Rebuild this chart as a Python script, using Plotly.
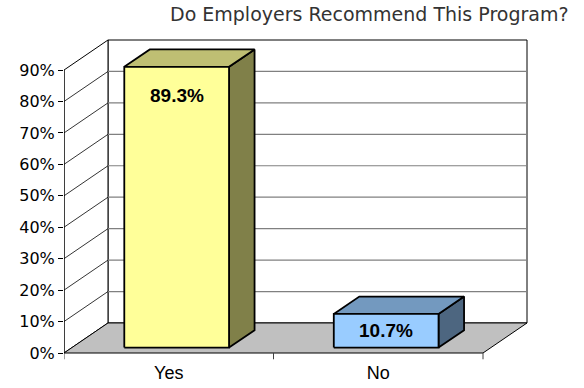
import plotly.graph_objects as go

# Survey result
categories = ["Yes", "No"]
values = [89.3, 10.7]
tick_values = [0, 10, 20, 30, 40, 50, 60, 70, 80, 90]
tick_labels = ["0%", "10%", "20%", "30%", "40%", "50%", "60%", "70%", "80%", "90%"]
title_text = "Do Employers Recommend This Program?"

# Bar colours: front, top, side
yes_colors = ["#FFFF99", "#BFBF73", "#808049"]
no_colors = ["#99CCFF", "#7399BF", "#4D6680"]
bar_palettes = [yes_colors, no_colors]

# Oblique projection: depth d in [0, 1] shifts a point right (x) and up (y)
DX = 0.21
DY = 9.55
Y_MAX = 90
X0, X1 = -0.5, len(categories) - 0.5
BAR_HALF = 0.25
D_FRONT, D_BACK = 0.18, 0.76


def proj(x, y, d):
    return x + d * DX, y + d * DY


def poly(points, fill, line_color="black", width=1.0, fillmode=True):
    xs, ys = zip(*[proj(*p) for p in points])
    xs, ys = list(xs), list(ys)
    if fillmode:
        xs.append(xs[0])
        ys.append(ys[0])
    return go.Scatter(
        x=xs, y=ys, mode="lines",
        fill="toself" if fillmode else None,
        fillcolor=fill, line=dict(color=line_color, width=width),
        hoverinfo="skip", showlegend=False,
    )


def seg(p, q, color, width=1.0):
    return poly([p, q], None, color, width, fillmode=False)


traces = []

# Back wall
traces.append(poly([(X0, 0, 1), (X1, 0, 1), (X1, Y_MAX, 1), (X0, Y_MAX, 1)], "white", "black", 1))
# Side wall
traces.append(poly([(X0, 0, 0), (X0, 0, 1), (X0, Y_MAX, 1), (X0, Y_MAX, 0)], "white", "black", 1))

# Gridlines on the back wall and along the side wall
for v in tick_values[1:-1]:
    traces.append(seg((X0, v, 1), (X1, v, 1), "#808080", 1.2))
    traces.append(seg((X0, v, 0), (X0, v, 1), "black", 0.8))

# Floor
traces.append(poly([(X0, 0, 0), (X1, 0, 0), (X1, 0, 1), (X0, 0, 1)], "#C0C0C0", "black", 1))

# Category boundary ticks below the floor
for i in range(len(categories) + 1):
    xb = X0 + i
    traces.append(seg((xb, 0, 0), (xb, -2, 0), "#404040", 1))

# Front value axis line
traces.append(seg((X0, 0, 0), (X0, Y_MAX, 0), "black", 1))

annotations = []
for i, (cat, v) in enumerate(zip(categories, values)):
    front, top, side = bar_palettes[i]
    xl, xr = i - BAR_HALF, i + BAR_HALF
    # right side face
    traces.append(poly([(xr, 0, D_FRONT), (xr, 0, D_BACK), (xr, v, D_BACK), (xr, v, D_FRONT)], side, "black", 1.8))
    # top face
    traces.append(poly([(xl, v, D_FRONT), (xr, v, D_FRONT), (xr, v, D_BACK), (xl, v, D_BACK)], top, "black", 1.8))
    # front face
    traces.append(poly([(xl, 0, D_FRONT), (xr, 0, D_FRONT), (xr, v, D_FRONT), (xl, v, D_FRONT)], front, "black", 1.8))

    # value label on the front face
    fx, fy_top = proj(i, v, D_FRONT)
    _, fy_bot = proj(i, 0, D_FRONT)
    label_y = max(fy_top - 9, (fy_top + fy_bot) / 2)
    annotations.append(dict(
        x=fx, y=label_y, xref="x", yref="y", text=f"<b>{v:.1f}%</b>",
        showarrow=False, font=dict(family="Liberation Sans", size=19, color="black"),
    ))

PX_PER_CAT = 209.5
PX_PER_PCT = 3.144
MARGIN_L, MARGIN_R, MARGIN_T, MARGIN_B = 64, 24, 30, 28
plot_w = 584 - MARGIN_L - MARGIN_R
plot_h = 388 - MARGIN_T - MARGIN_B

# Chart title, right-aligned above the back wall
annotations.append(dict(
    x=(571 - MARGIN_L) / plot_w, y=1 + (MARGIN_T - 14) / plot_h,
    xref="paper", yref="paper", xanchor="right", yanchor="middle",
    text=title_text, showarrow=False,
    font=dict(family="DejaVu Sans", size=19, color="#333333"),
))

fig = go.Figure(traces)

fig.update_layout(
    width=584, height=388,
    autosize=False,
    margin=dict(l=MARGIN_L, r=MARGIN_R, t=MARGIN_T, b=MARGIN_B, pad=0, autoexpand=False),
    paper_bgcolor="white", plot_bgcolor="white",
    showlegend=False,
    xaxis=dict(
        range=[X0, X0 + plot_w / PX_PER_CAT],
        tickvals=list(range(len(categories))), ticktext=categories,
        showgrid=False, zeroline=False, showline=False,
        ticks="", automargin=False,
        tickfont=dict(family="Liberation Sans", size=18, color="black"),
    ),
    yaxis=dict(
        range=[-7 / PX_PER_PCT, -7 / PX_PER_PCT + plot_h / PX_PER_PCT],
        tickvals=tick_values, ticktext=tick_labels,
        showgrid=False, zeroline=False, showline=False,
        ticks="outside", ticklen=5, tickcolor="black", tickwidth=1,
        automargin=False,
        tickfont=dict(family="DejaVu Sans", size=16, color="black"),
    ),
    annotations=annotations,
)

fig.write_html("out.html")
